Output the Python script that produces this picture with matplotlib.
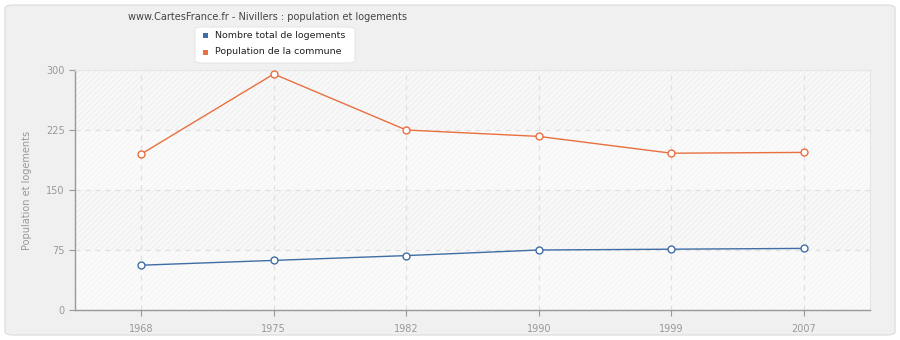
import matplotlib.pyplot as plt
from matplotlib.patches import FancyBboxPatch, Rectangle

# --- Data ---
years = ["1968", "1975", "1982", "1990", "1999", "2007"]
logements = [56, 62, 68, 75, 76, 77]
population = [195, 295, 225, 217, 196, 197]
y_ticks = [0, 75, 150, 225, 300]

BLUE = "#3f6ea5"
ORANGE = "#e8703f"
BG = "#f0f0f0"

plt.rcParams["hatch.linewidth"] = 0.5

fig = plt.figure(figsize=(9, 3.4), dpi=100)
fig.patch.set_facecolor("white")

# rounded outer panel, drawn behind the axes
panel = FancyBboxPatch((5 / 900, 5 / 340), 890 / 900, 330 / 340,
                       boxstyle="round,pad=0,rounding_size=0.01",
                       transform=fig.transFigure, facecolor=BG,
                       edgecolor="#e0e0e0", linewidth=1.0, zorder=-1)
fig.patches.append(panel)

ax = fig.add_axes([75 / 900, 30 / 340, 795 / 900, 240 / 340])
ax.set_zorder(1)
ax.set_facecolor("#f7f7f7")
x = list(range(len(years)))
ax.set_xlim(-0.5, len(years) - 0.5)
ax.set_ylim(0, 300)

# alternate bands: plain and hatched
for i in range(len(y_ticks) - 1):
    lo, hi = y_ticks[i], y_ticks[i + 1]
    if i % 2 == 0:
        ax.add_patch(Rectangle((-0.5, lo), len(years), hi - lo,
                               facecolor="#fafafa", edgecolor="#f3f3f3",
                               hatch="//////", linewidth=0, zorder=0))
    else:
        ax.add_patch(Rectangle((-0.5, lo), len(years), hi - lo,
                               facecolor="#f8f8f8", edgecolor="#ebebeb",
                               hatch="//////", linewidth=0, zorder=0))

for xi in x:
    ax.axvline(xi, color="#e0e0e0", linestyle=(0, (4, 4)), linewidth=0.9, zorder=1)
for yv in y_ticks[1:]:
    ax.axhline(yv, color="#e0e0e0", linestyle=(0, (4, 4)), linewidth=0.9, zorder=1)

ax.plot(x, logements, color=BLUE, linewidth=1.0, marker="o", markersize=5,
        markerfacecolor="white", markeredgecolor=BLUE, markeredgewidth=1.0, zorder=3)
ax.plot(x, population, color=ORANGE, linewidth=1.0, marker="o", markersize=5,
        markerfacecolor="white", markeredgecolor=ORANGE, markeredgewidth=1.0, zorder=3)

ax.set_xticks(x)
ax.set_xticklabels(years)
ax.set_yticks(y_ticks)
ax.set_yticklabels([str(v) for v in y_ticks])
ax.tick_params(colors="#999999", labelsize=7, length=4, width=0.8)
ax.tick_params(axis="x", pad=6)
ax.spines["top"].set_color("#e6e6e6")
ax.spines["right"].set_color("#e6e6e6")
for side in ["left", "bottom"]:
    ax.spines[side].set_color("#999999")
    ax.spines[side].set_linewidth(1.0)
ax.set_ylabel("Population et logements", color="#999999", fontsize=7, labelpad=10)

fig.text(268 / 900, 1 - 17 / 340,
         "www.CartesFrance.fr - Nivillers : population et logements",
         ha="center", va="center", fontsize=7, color="#444444")

# legend box
leg = FancyBboxPatch((195 / 900, 1 - 63 / 340), 160 / 900, 36 / 340,
                     boxstyle="round,pad=0,rounding_size=0.008",
                     transform=fig.transFigure, facecolor="white",
                     edgecolor="#e6e6e6", linewidth=0.8, zorder=5)
fig.patches.append(leg)
for label, color, ypx in [("Nombre total de logements", BLUE, 35),
                          ("Population de la commune", ORANGE, 52)]:
    fig.patches.append(Rectangle((203 / 900, 1 - (ypx + 3) / 340), 5 / 900, 5 / 340,
                                 transform=fig.transFigure, facecolor=color,
                                 edgecolor="none", zorder=6))
    fig.text(215 / 900, 1 - ypx / 340, label, ha="left", va="center",
             fontsize=6.8, color="#222222", zorder=7)

fig.savefig("out.png", dpi=100, facecolor=fig.get_facecolor())
